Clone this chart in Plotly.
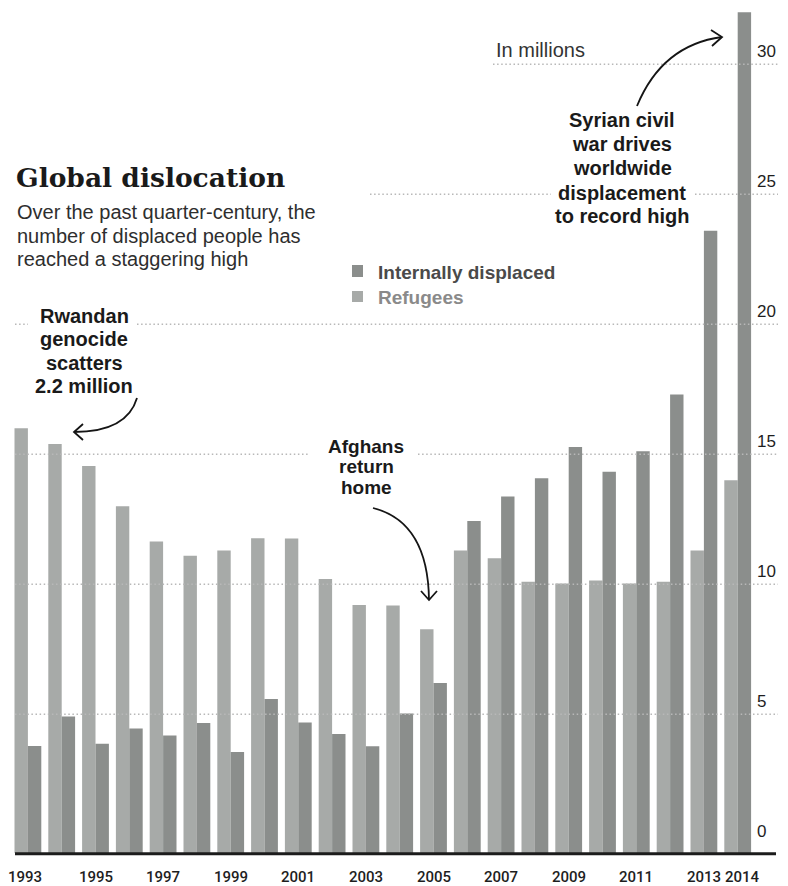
import plotly.graph_objects as go

# ---------------- data (millions) ----------------
years = list(range(1993, 2015))
refugees = [16.0, 15.4, 14.55, 13.0, 11.65, 11.1, 11.3, 11.77, 11.76, 10.2, 9.2,
            9.18, 8.27, 11.3, 11.0, 10.1, 10.03, 10.15, 10.03, 10.1, 11.3, 14.0]
internally_displaced = [3.78, 4.92, 3.87, 4.45, 4.18, 4.67, 3.55, 5.59, 4.68, 4.24, 3.77,
                        5.03, 6.2, 12.43, 13.38, 14.08, 15.28, 14.33, 15.12, 17.3, 23.6, 32.0]
year_ticks = [1993, 1995, 1997, 1999, 2001, 2003, 2005, 2007, 2009, 2011, 2013, 2014]
value_ticks = [0, 5, 10, 15, 20, 25, 30]

# ---------------- layout geometry ----------------
W, H = 788, 886
L, R, T, B = 11, 778, 5, 856
PW, PH = R - L, B - T
PITCH = 33.8          # px per year
UNIT = 26.0           # px per million
ZERO_PX = 844.3
X0 = 1992.5
X1 = X0 + PW / PITCH
YMAX = (ZERO_PX - T) / UNIT
YMIN = -(B - ZERO_PX) / UNIT
BAR_BASE = -0.33      # bars run down to the heavy baseline, as in the original

REF_COLOR = "#a7aaa8"
IDP_COLOR = "#8b8e8c"
FONT = "Liberation Sans, Arial, sans-serif"
YEAR_FONT = "Roboto, Liberation Sans, Arial, sans-serif"


def px(x):
    return (x - L) / PW


def py(y):
    return (B - y) / PH


fig = go.Figure()
fig.add_trace(go.Bar(
    x=years, y=[v - BAR_BASE for v in refugees], base=BAR_BASE,
    name="Refugees", marker=dict(color=REF_COLOR, line=dict(width=0)),
    customdata=refugees, hovertemplate="%{x}: %{customdata} million<extra>Refugees</extra>",
))
fig.add_trace(go.Bar(
    x=years, y=[v - BAR_BASE for v in internally_displaced], base=BAR_BASE,
    name="Internally displaced", marker=dict(color=IDP_COLOR, line=dict(width=0)),
    customdata=internally_displaced,
    hovertemplate="%{x}: %{customdata} million<extra>Internally displaced</extra>",
))

shapes = []
# dotted gridlines (drawn above bars, broken where text sits)
grid_segments = {
    5: [(15, 778)],
    10: [(15, 778)],
    15: [(15, 310), (418, 778)],
    20: [(15, 28), (137, 778)],
    25: [(370, 551), (695, 778)],
    30: [(493, 778)],
}
for val, segs in grid_segments.items():
    for a, b in segs:
        shapes.append(dict(type="line", xref="paper", yref="y", x0=px(a), x1=px(b),
                           y0=val, y1=val, layer="above",
                           line=dict(color="#b8b8b8", width=1.6, dash="1.5px,2.6px")))
# heavy baseline
shapes.append(dict(type="line", xref="paper", yref="y", x0=px(15), x1=px(776),
                   y0=-0.36, y1=-0.36, layer="above",
                   line=dict(color="#1c1c1c", width=3)))

# legend swatches
shapes.append(dict(type="rect", xref="paper", yref="paper", x0=px(352), x1=px(363),
                   y0=py(277), y1=py(265), fillcolor=IDP_COLOR, line=dict(width=0)))
shapes.append(dict(type="rect", xref="paper", yref="paper", x0=px(352), x1=px(363),
                   y0=py(302), y1=py(291), fillcolor=REF_COLOR, line=dict(width=0)))


def curve(p0, c, p1, head):
    d = f"M {px(p0[0])},{py(p0[1])} Q {px(c[0])},{py(c[1])} {px(p1[0])},{py(p1[1])}"
    shapes.append(dict(type="path", xref="paper", yref="paper", path=d,
                       line=dict(color="#151515", width=1.8)))
    a, b = head
    d2 = (f"M {px(a[0])},{py(a[1])} L {px(p1[0])},{py(p1[1])} "
          f"L {px(b[0])},{py(b[1])}")
    shapes.append(dict(type="path", xref="paper", yref="paper", path=d2,
                       line=dict(color="#151515", width=1.8)))


curve((137, 398), (127, 432), (74, 432), ((83, 424), (83, 440)))
curve((373, 508), (428, 522), (429, 600), ((421, 591), (437, 591)))
curve((637, 106), (662, 45), (722, 37), ((711, 30), (712, 46)))

annotations = []


def text(s, x, y, size, color="#1a1a1a", weight="normal", anchor="center", family=FONT):
    annotations.append(dict(text=s, xref="paper", yref="paper", x=px(x), y=py(y),
                            xanchor=anchor, yanchor="middle", showarrow=False,
                            font=dict(family=family, size=size, color=color, weight=weight)))


# title & subtitle
text("Global dislocation", 14, 178, 26.5, "#1a1a1a", "bold", "left", "DejaVu Serif, serif")
for s, y in zip(["Over the past quarter-century, the",
                 "number of displaced people has",
                 "reached a staggering high"], [212, 235.5, 259]):
    text(s, 15, y, 20, "#2e2e2e", "normal", "left")

# legend labels
text("Internally displaced", 376, 272, 19, "#4a4a4a", "bold", "left")
text("Refugees", 376, 297.5, 19, "#8a8a8a", "bold", "left")

text("In millions", 494, 50, 20, "#333333", "normal", "left")

for s, y in zip(["Rwandan", "genocide", "scatters", "2.2 million"], [316, 339.5, 362.5, 386]):
    text(s, 84, y, 20, "#1a1a1a", "bold")
for s, y in zip(["Afghans", "return", "home"], [447, 467, 487.5]):
    text(s, 366, y, 19, "#1a1a1a", "bold")
for s, y in zip(["Syrian civil", "war drives", "worldwide", "displacement", "to record high"],
                [120, 144, 168, 192.5, 216]):
    text(s, 622, y, 20, "#1a1a1a", "bold")

# value axis labels (right side)
for v in value_ticks:
    annotations.append(dict(text=str(v), xref="paper", yref="y", x=px(755), y=v,
                            xanchor="left", yanchor="bottom", yshift=1, showarrow=False,
                            font=dict(family=FONT, size=17, color="#1e1e1e")))

# year labels under the baseline
for yr in year_ticks:
    annotations.append(dict(text=str(yr), xref="x", yref="paper", x=yr, y=py(877),
                            xanchor="center", yanchor="middle", showarrow=False,
                            xshift=5 if yr == 2014 else (-3 if yr == 1993 else 0),
                            font=dict(family=YEAR_FONT, size=15, color="#1e1e1e", weight=500)))

fig.update_layout(
    width=W, height=H,
    margin=dict(l=L, r=W - R, t=T, b=H - B, pad=0),
    paper_bgcolor="white", plot_bgcolor="white",
    barmode="group", bargap=0.207, bargroupgap=0,
    showlegend=False,
    xaxis=dict(range=[X0, X1], showticklabels=False, ticks="",
               showgrid=False, zeroline=False, showline=False, fixedrange=True),
    yaxis=dict(range=[YMIN, YMAX], showticklabels=False, ticks="", showgrid=False,
               zeroline=False, showline=False, fixedrange=True),
    shapes=shapes, annotations=annotations,
)

fig.write_html("out.html", post_script="document.body.style.margin='0px';",
               config={"displayModeBar": False})
